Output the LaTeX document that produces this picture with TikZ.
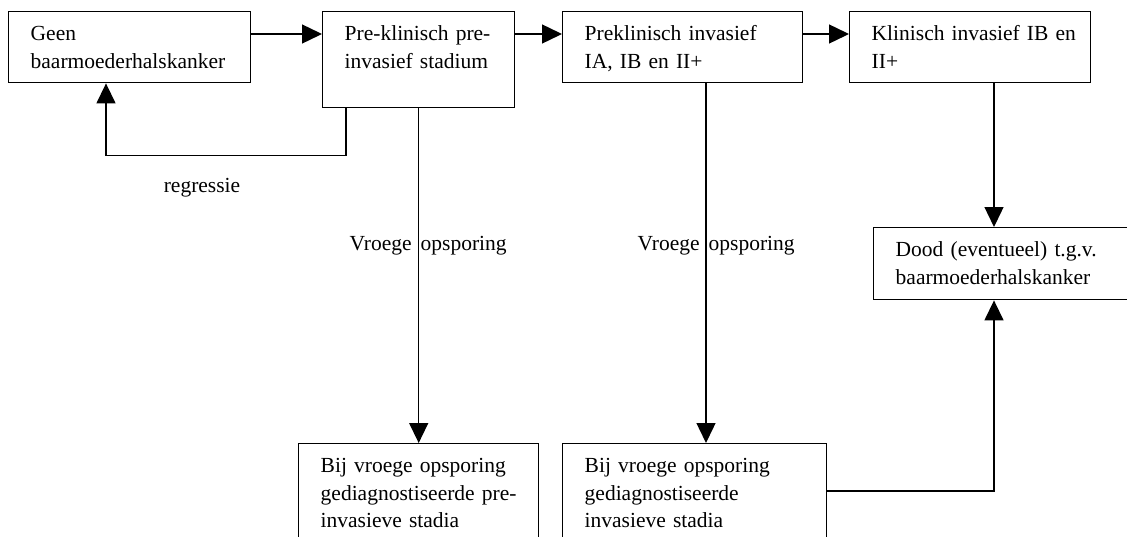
\documentclass[tikz,border=0pt]{standalone}
\usepackage{fontspec}
\setmainfont{Liberation Serif}
\usetikzlibrary{arrows.meta,positioning}

\begin{document}
\begin{tikzpicture}[->,>={Triangle[length=20pt,width=19pt]},x=1pt,y=-1pt,
                    line width=1.4pt, font=\fontsize{21.5}{27.5}\selectfont]
  \tikzstyle{every node}=[inner sep=0pt]
  \tikzstyle{box}=[draw, anchor=north west, align=left, inner xsep=22pt,
                   inner ysep=0pt, text height=29pt]

  \clip (0,0) rectangle (1127,536);

  \node[box, text width=198pt, text depth=42pt] (A) at (8,11)   {Geen\\baarmoederhalskanker};
  \node[box, text width=148pt, text depth=67pt] (B) at (322,11) {Pre-klinisch pre-\\invasief stadium};
  \node[box, text width=196pt, text depth=42pt] (C) at (562,11) {Preklinisch invasief\\IA, IB en II+};
  \node[box, inner xsep=0pt, text width=241pt, text depth=42pt] (D) at (849,11)
        {\hspace*{22pt}Klinisch invasief IB en\\\hspace*{22pt}II+};
  \node[box, text width=226pt, text depth=43pt] (E) at (873,227) {Dood (eventueel) t.g.v.\\baarmoederhalskanker};
  \node[box, text width=196pt, text depth=91pt] (F) at (298,443) {Bij vroege opsporing\\gediagnostiseerde pre-\\invasieve stadia};
  \node[box, text width=220pt, text depth=91pt] (G) at (562,443) {Bij vroege opsporing\\gediagnostiseerde\\invasieve stadia};

  \path ([yshift=-23pt]A.north east) edge ([yshift=-23pt]B.north west)
        ([yshift=-23pt]B.north east) edge ([yshift=-23pt]C.north west)
        ([yshift=-23pt]C.north east) edge ([yshift=-23pt]D.north west);

  % terug naar geen kanker
  \draw ([xshift=24pt]B.south west) -- ++(0,47) -| ([xshift=98pt]A.south west);
  \node[anchor=base] (R) at (202,192) {regressie};

  \draw (B.south) -- (F.north);
  \draw ([xshift=144pt]C.south west) -- ([xshift=144pt]C.south west |- G.north);
  \node[anchor=base west] (V1) at (349,250) {Vroege\hspace{9pt}opsporing};
  \node[anchor=base west] (V2) at (637,250) {Vroege\hspace{9pt}opsporing};

  \draw ([xshift=145pt]D.south west) -- ([xshift=121pt]E.north west);
  \draw ([yshift=-48pt]G.north east) -| ([xshift=121pt]E.south west);
\end{tikzpicture}
\end{document}
